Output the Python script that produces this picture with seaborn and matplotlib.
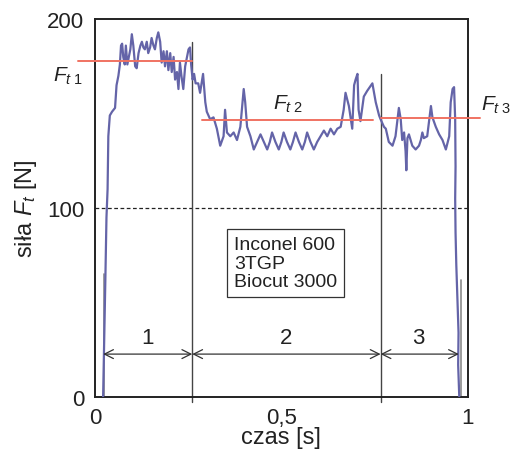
import matplotlib
matplotlib.use("Agg")
import matplotlib.pyplot as plt
import seaborn as sns
import numpy as np
import pandas as pd

# ---- data ----
time_s = [0.022, 0.025, 0.028, 0.031, 0.034, 0.036, 0.040, 0.046, 0.054, 0.058,
          0.063, 0.067, 0.070, 0.073, 0.076, 0.080, 0.083, 0.087, 0.091, 0.095,
          0.099, 0.103, 0.108, 0.112, 0.117, 0.122, 0.126, 0.130, 0.134, 0.139,
          0.143, 0.148, 0.152, 0.157, 0.161, 0.166, 0.170, 0.175, 0.179, 0.184,
          0.188, 0.193, 0.197, 0.202, 0.206, 0.211, 0.215, 0.220, 0.224, 0.228,
          0.232, 0.237, 0.242, 0.247, 0.251, 0.255, 0.258, 0.262, 0.266, 0.270,
          0.277, 0.282, 0.290, 0.296, 0.300, 0.309, 0.318, 0.327, 0.336, 0.345,
          0.349, 0.354, 0.363, 0.372, 0.381, 0.390, 0.399, 0.403, 0.408, 0.417,
          0.426, 0.435, 0.444, 0.453, 0.462, 0.469, 0.475, 0.484, 0.493, 0.500,
          0.506, 0.515, 0.524, 0.531, 0.538, 0.547, 0.556, 0.563, 0.569, 0.578,
          0.587, 0.596, 0.605, 0.614, 0.623, 0.632, 0.641, 0.650, 0.659, 0.667,
          0.672, 0.681, 0.690, 0.695, 0.699, 0.704, 0.707, 0.712, 0.721, 0.730,
          0.744, 0.753, 0.762, 0.766, 0.775, 0.780, 0.788, 0.798, 0.806, 0.815,
          0.820, 0.824, 0.829, 0.833, 0.835, 0.838, 0.842, 0.851, 0.860, 0.869,
          0.874, 0.878, 0.882, 0.891, 0.901, 0.905, 0.914, 0.923, 0.932, 0.941,
          0.950, 0.954, 0.959, 0.963, 0.966, 0.967, 0.966, 0.967, 0.969, 0.972,
          0.975, 0.974, 0.977]
force_N = [0, 30, 62, 95, 110, 138, 149, 151, 153, 165,
           170, 176, 186, 187, 180, 176, 186, 176, 180, 184,
           192, 186, 175, 174, 182, 186, 188, 185, 184, 188,
           182, 185, 190, 186, 184, 190, 193, 188, 177, 183,
           175, 183, 173, 182, 172, 180, 168, 172, 163, 177,
           170, 163, 175, 180, 184, 185, 176, 168, 171, 166,
           166, 161, 171, 156, 151, 147, 148, 142, 133, 138,
           152, 140, 138, 140, 136, 143, 163, 156, 143, 138,
           131, 135, 139, 135, 131, 135, 140, 135, 131, 135,
           140, 135, 131, 135, 140, 135, 131, 135, 140, 135,
           131, 135, 138, 141, 138, 142, 139, 142, 143, 152,
           161, 154, 142, 165, 168, 171, 152, 146, 159, 162,
           166, 156, 149, 147, 143, 142, 135, 133, 138, 153,
           147, 136, 140, 130, 120, 137, 139, 133, 131, 133,
           136, 140, 137, 138, 154, 148, 143, 139, 136, 131,
           138, 156, 163, 164, 147, 122, 105, 87, 70, 52,
           34, 17, 0]

stage_bounds = [0.261, 0.766]          # s, stage boundaries
stage_tops = [188, 171]                # N, top of boundary lines
stage_start, stage_end = 0.022, 0.976  # arrow extents
stage_labels = ["1", "2", "3"]
stage_label_x = [0.142, 0.513, 0.868]

ft_levels = [178, 146.5, 147.6]        # mean force of each stage
ft_spans = [(-0.046, 0.261), (0.288, 0.747), (0.766, 1.032)]
ft_names = [r"$F_{t\ \mathit{1}}$", r"$F_{t\ \mathit{2}}$", r"$F_{t\ \mathit{3}}$"]

x_ticks = [0, 0.5, 1]
x_tick_labels = ["0", "0,5", "1"]
y_ticks = [0, 100, 200]
box_lines = ["Inconel 600", "3TGP", "Biocut 3000"]

# ---- style ----
sns.set_style("white")
plt.rcParams["font.family"] = ["Liberation Sans", "DejaVu Sans"]
plt.rcParams["mathtext.fontset"] = "custom"
plt.rcParams["mathtext.rm"] = "Liberation Sans"
plt.rcParams["mathtext.it"] = "Liberation Sans:italic"
plt.rcParams["mathtext.sf"] = "Liberation Sans"

fig = plt.figure(figsize=(5.13, 4.52), dpi=100)
ax = fig.add_axes([0.185, 0.1195, 0.727, 0.836])

df = pd.DataFrame({"t": time_s, "F": force_N})
sns.lineplot(data=df, x="t", y="F", sort=False, estimator=None,
             color="#6464a8", lw=1.6, ax=ax, zorder=3)

# gray end markers
ax.plot([0.024, 0.024], [0, 65], color="#8a8a8a", lw=1.2, zorder=2)
ax.plot([0.981, 0.981], [0, 62], color="#8a8a8a", lw=1.2, zorder=2)

# dashed 100 N reference
ax.axhline(100, color="#222222", lw=0.9, ls=(0, (3, 2)), zorder=1)

# stage boundaries
for b, top in zip(stage_bounds, stage_tops):
    ax.plot([b, b], [-2.5, top], color="#444444", lw=1.0, clip_on=False, zorder=2)

# arrows
edges = [stage_start] + stage_bounds + [stage_end]
for i in range(3):
    ax.annotate("", xy=(edges[i], 22.7), xytext=(edges[i + 1], 22.7),
                arrowprops=dict(arrowstyle="<->", lw=0.9, color="#333333",
                                mutation_scale=16, shrinkA=0, shrinkB=0))
    ax.text(stage_label_x[i], 31.5, stage_labels[i], ha="center", va="center",
            fontsize=16, color="#222222")

# mean force lines
for lvl, (a, b) in zip(ft_levels, ft_spans):
    ax.plot([a, b], [lvl, lvl], color="#f07262", lw=1.4, clip_on=False, zorder=4)

ax.text(-0.113, 170, ft_names[0], ha="left", va="center", fontsize=15, color="#222222")
ax.text(0.478, 155.5, ft_names[1], ha="left", va="center", fontsize=15, color="#222222")
ax.text(1.035, 155, ft_names[2], ha="left", va="center", fontsize=15, color="#222222")

# info box
ax.text(0.512, 70.9, "\n".join(box_lines), ha="center", va="center", fontsize=14,
        linespacing=1.15, color="#222222", multialignment="left",
        bbox=dict(boxstyle="square,pad=0.35", fc="white", ec="#333333", lw=0.9))

# axes
ax.set_xlim(0, 1)
ax.set_ylim(0, 200)
ax.set_xticks(x_ticks)
ax.set_xticklabels(x_tick_labels)
ax.set_xticks(stage_bounds, minor=True)
ax.set_yticks(y_ticks)
ax.tick_params(axis="x", which="major", direction="out", length=5, width=1,
               labelsize=16, pad=2, colors="#222222")
ax.tick_params(axis="x", which="minor", direction="out", length=5, width=1, colors="#444444")
ax.tick_params(axis="y", direction="inout", length=11, width=1, labelsize=16,
               pad=2, colors="#222222")
for s in ax.spines.values():
    s.set_linewidth(1.4)
    s.set_color("#222222")
    s.set_visible(True)

ax.set_xlabel("czas [s]", fontsize=17, labelpad=-1, color="#222222")
ax.set_ylabel(r"siła $F_t$ [N]", fontsize=17, labelpad=6, color="#222222")

fig.savefig("out.png", dpi=100)
